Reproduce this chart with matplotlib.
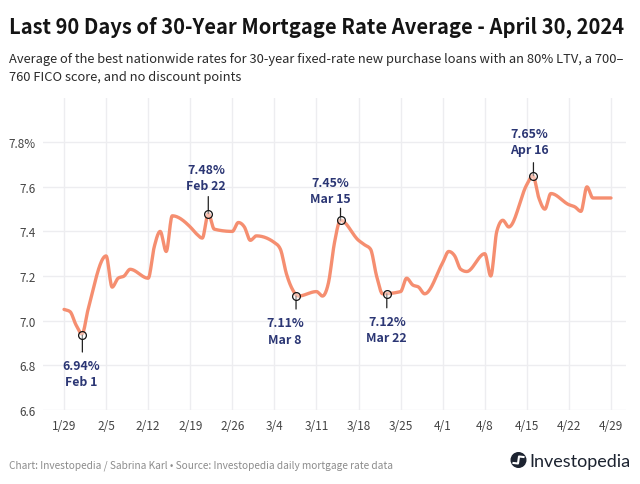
import numpy as np
import pandas as pd
import matplotlib
matplotlib.use("Agg")
import matplotlib.pyplot as plt
from matplotlib.patches import Circle

plt.rcParams["font.family"] = ["Noto Sans CJK JP", "DejaVu Sans"]

# ---------------------------------------------------------------------
# Data
# ---------------------------------------------------------------------
dates = ["1/29", "1/30", "1/31", "2/1", "2/2", "2/5", "2/6", "2/7", "2/8", "2/9",
         "2/12", "2/13", "2/14", "2/15", "2/16", "2/19", "2/20", "2/21", "2/22", "2/23",
         "2/26", "2/27", "2/28", "2/29", "3/1", "3/4", "3/5", "3/6", "3/7", "3/8",
         "3/11", "3/12", "3/13", "3/14", "3/15", "3/18", "3/19", "3/20", "3/21", "3/22",
         "3/25", "3/26", "3/27", "3/28", "3/29", "4/1", "4/2", "4/3", "4/4", "4/5",
         "4/8", "4/9", "4/10", "4/11", "4/12", "4/15", "4/16", "4/17", "4/18", "4/19",
         "4/22", "4/23", "4/24", "4/25", "4/26", "4/29"]
rates = [7.05, 7.04, 6.98, 6.94, 7.05, 7.29, 7.15, 7.19, 7.20, 7.23,
         7.19, 7.33, 7.40, 7.31, 7.47, 7.42, 7.39, 7.37, 7.48, 7.41,
         7.40, 7.44, 7.42, 7.36, 7.38, 7.35, 7.32, 7.21, 7.14, 7.11,
         7.13, 7.11, 7.17, 7.35, 7.45, 7.36, 7.34, 7.32, 7.20, 7.12,
         7.13, 7.19, 7.16, 7.15, 7.12, 7.26, 7.31, 7.29, 7.23, 7.22,
         7.30, 7.20, 7.40, 7.45, 7.42, 7.61, 7.65, 7.55, 7.50, 7.57,
         7.52, 7.51, 7.49, 7.60, 7.55, 7.55]

tick_labels = ["1/29", "2/5", "2/12", "2/19", "2/26", "3/4", "3/11", "3/18",
               "3/25", "4/1", "4/8", "4/15", "4/22", "4/29"]
y_ticks = [6.6, 6.8, 7.0, 7.2, 7.4, 7.6, 7.8]
y_labels = ["6.6", "6.8", "7.0", "7.2", "7.4", "7.6", "7.8%"]

note_rates = ["6.94%", "7.48%", "7.11%", "7.45%", "7.12%", "7.65%"]
note_dates = ["Feb 1", "Feb 22", "Mar 8", "Mar 15", "Mar 22", "Apr 16"]
note_days = [3.05, 24, 38.6, 46, 53.7, 78.1]
note_values = [6.935, 7.48, 7.11, 7.45, 7.12, 7.65]

# estilo de las anotaciones: largo de la linea y offset del texto (px)
note_stems = [-17, 17, -13, 12, -14, 13]
note_text_dx = [-1, -2, -11, -10, 0, -4]
note_text_dy = [-38.5, 36, -35, 30, -36, 34]

NAVY = "#2b3674"
SALMON = "#f58e70"
GRID = "#ededf0"


def to_days(labels):
    fechas = pd.to_datetime(["2024/" + d for d in labels])
    return np.asarray((fechas - pd.Timestamp("2024-01-29")).days, dtype=float)


def monotone_curve(x, y, per_day=12):
    # curva monotona (igual que d3.curveMonotoneX) solo para dibujar la linea
    h = np.diff(x)
    s = np.diff(y) / h
    m = np.zeros_like(y)
    for i in range(1, len(y) - 1):
        if s[i - 1] * s[i] > 0:
            p = (s[i - 1] * h[i] + s[i] * h[i - 1]) / (h[i - 1] + h[i])
            m[i] = np.sign(s[i]) * min(abs(s[i - 1]), abs(s[i]), 0.5 * abs(p)) * 2
    m[0], m[-1] = s[0], s[-1]
    xs, ys = [], []
    for i in range(len(h)):
        t = np.linspace(0, 1, int(h[i] * per_day) + 1)
        ys.append((2 * t**3 - 3 * t**2 + 1) * y[i] + (t**3 - 2 * t**2 + t) * h[i] * m[i]
                  + (-2 * t**3 + 3 * t**2) * y[i + 1] + (t**3 - t**2) * h[i] * m[i + 1])
        xs.append(x[i] + t * h[i])
    return np.concatenate(xs), np.concatenate(ys)


# ---------------------------------------------------------------------
# Figure and chart area
# ---------------------------------------------------------------------
W, H = 640, 485
fig = plt.figure(figsize=(W / 100, H / 100), dpi=100, facecolor="white")
ax = fig.add_axes([43 / W, 1 - 410.7 / H, (626 - 43) / W, (410.7 - 98.7) / H])

days = to_days(dates)
curve_x, curve_y = monotone_curve(days, np.array(rates))
ax.plot(curve_x, curve_y, color=SALMON, lw=2.4, solid_capstyle="round",
        solid_joinstyle="round", zorder=3)

ax.set_xlim(-3.5, 93.5)
ax.set_ylim(6.6, 8.0)
ax.set_xticks(to_days(tick_labels))
ax.set_xticklabels(tick_labels)
ax.set_yticks(y_ticks)
ax.set_yticklabels(y_labels)
ax.grid(True, color=GRID, lw=1.0, zorder=0)
ax.set_axisbelow(True)
ax.tick_params(length=0, labelsize=8.5, labelcolor="#444444")
ax.tick_params(axis="x", pad=7)
ax.tick_params(axis="y", pad=5)
for spine in ax.spines.values():
    spine.set_visible(False)

for i in range(len(note_days)):
    xy = (note_days[i], note_values[i])
    ax.annotate("", xy=xy, xytext=(0, note_stems[i]), textcoords="offset pixels",
                arrowprops=dict(arrowstyle="-", color="#222222", lw=0.9, shrinkA=0, shrinkB=0),
                zorder=4)
    ax.plot(*xy, "o", ms=5.6, mfc=(1, 1, 1, 0.45), mec="#151515", mew=0.9, zorder=5)
    ax.annotate(note_rates[i] + "\n" + note_dates[i], xy=xy,
                xytext=(note_text_dx[i], note_text_dy[i]), textcoords="offset pixels",
                ha="center", va="center", color=NAVY, fontsize=8.9, fontweight="bold",
                linespacing=1.32, zorder=6)

# ---------------------------------------------------------------------
# Title, footer and logo, in pixels of the picture
# ---------------------------------------------------------------------
over = fig.add_axes([0, 0, 1, 1], facecolor="none")
over.set_xlim(0, W)
over.set_ylim(H, 0)
over.axis("off")

over.text(9, 33, "Last 90 Days of 30-Year Mortgage Rate Average - April 30, 2024",
          fontsize=14.55, fontweight="bold", color="#141414", va="baseline")
over.text(9, 63, "Average of the best nationwide rates for 30-year fixed-rate new purchase loans with an 80% LTV, a 700–",
          fontsize=9.3, color="#2a2a2a", va="baseline")
over.text(9, 81, "760 FICO score, and no discount points",
          fontsize=9.3, color="#2a2a2a", va="baseline")
over.text(9, 468.5, "Chart: Investopedia / Sabrina Karl • Source: Investopedia daily mortgage rate data",
          fontsize=7.3, color="#8c8c8c", va="baseline")

over.add_patch(Circle((518.5, 461), 7.3, color="#1c2330", zorder=2))
over.plot([513.5, 518, 519, 523.5], [464, 464.5, 457.5, 458], color="white", lw=1.5, zorder=3)
over.text(529, 467, "Investopedia", fontsize=13, color="#1c2330", family="Lato", va="baseline")

fig.savefig("out.png", dpi=100)
